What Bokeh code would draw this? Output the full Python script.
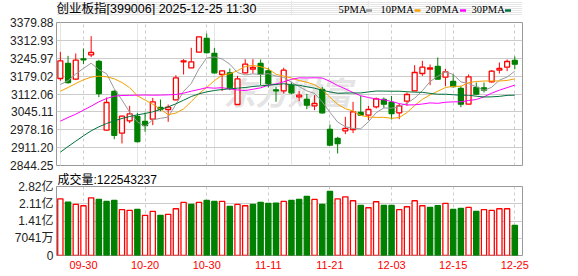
from bokeh.plotting import figure
from bokeh.models import Range1d, FixedTicker, Label, Grid, ColumnDataSource, PrintfTickFormatter, Title
from bokeh.core.properties import value
from bokeh.layouts import column
from bokeh.embed import file_html
from bokeh.resources import INLINE

# ---------------- data ----------------
dates = ["09-25","09-26","09-29","09-30","10-09","10-10","10-13","10-14","10-15","10-16",
         "10-17","10-20","10-21","10-22","10-23","10-24","10-27","10-28","10-29","10-30",
         "10-31","11-03","11-04","11-05","11-06","11-07","11-10","11-11","11-12","11-13",
         "11-14","11-17","11-18","11-19","11-20","11-21","11-24","11-25","11-26","11-27",
         "11-28","12-01","12-02","12-03","12-04","12-05","12-08","12-09","12-10","12-11",
         "12-12","12-15","12-16","12-17","12-18","12-19","12-22","12-23","12-24","12-25"]

opens = [3170.1,3226.3,3167.6,3243.8,3258.8,3233.8,2976.6,3121.4,2965.3,3011.6,
         3027.8,3009.1,3017.8,3061.5,3054.0,3090.2,3232.5,3210.1,3268.8,3319.9,
         3263.8,3185.1,3191.3,3072.7,3191.3,3205.1,3226.3,3198.8,3127.7,3123.9,
         3145.2,3101.5,3091.4,3067.7,3128.9,2979.1,2945.4,2974.1,2979.1,3042.8,
         3032.8,3064.0,3091.4,3080.2,3041.5,3085.2,3123.9,3188.8,3205.1,3215.1,
         3175.1,3158.9,3132.7,3074.0,3136.4,3135.2,3157.6,3201.3,3212.6,3237.5]
highs = [3270.0,3255.0,3263.8,3282.5,3328.7,3240.0,3098.9,3126.4,3031.0,3067.7,
         3041.5,3042.8,3097.7,3091.4,3072.7,3182.6,3242.5,3285.0,3327.5,3338.7,
         3285.0,3201.3,3207.6,3180.1,3242.5,3242.5,3241.3,3210.1,3138.9,3210.1,
         3157.6,3122.7,3112.7,3107.7,3138.9,2997.8,2951.6,3026.5,3082.7,3105.1,
         3067.7,3098.9,3098.9,3105.1,3076.5,3117.7,3220.1,3236.3,3222.5,3248.8,
         3206.3,3186.3,3142.6,3185.1,3155.1,3155.1,3201.3,3230.0,3241.3,3252.5]
lows = [3161.4,3151.4,3163.9,3223.8,3250.0,3100.2,2975.0,2942.9,2926.6,3002.8,
        2930.4,2970.3,2995.3,3047.8,3007.8,3088.9,3185.1,3210.1,3267.5,3263.8,
        3188.8,3122.7,3126.4,3072.7,3188.8,3188.8,3145.2,3136.4,3082.7,3113.9,
        3111.4,3085.2,3055.2,3051.5,3039.0,2920.4,2889.2,2961.6,2965.3,3032.8,
        3014.1,3057.7,3060.2,3016.6,3017.8,3067.7,3122.7,3180.1,3145.2,3167.6,
        3141.4,3136.4,3062.7,3074.0,3110.2,3117.7,3155.1,3188.8,3197.6,3205.1]
closes = [3236.3,3155.1,3238.8,3240.0,3267.5,3113.9,3080.2,2957.6,3029.0,3037.8,
          2934.1,2994.1,3082.7,3055.2,3062.7,3172.6,3236.3,3232.5,3326.2,3267.5,
          3191.3,3198.8,3135.2,3168.9,3223.8,3211.3,3186.3,3151.4,3123.9,3201.3,
          3116.4,3107.7,3070.2,3076.5,3041.5,2920.4,2926.6,2982.8,3045.3,3032.8,
          3054.0,3093.9,3074.0,3039.0,3067.7,3110.2,3192.6,3212.6,3210.1,3167.6,
          3195.1,3140.2,3074.0,3176.4,3111.4,3126.4,3197.6,3207.6,3233.8,3223.8]

ma5 = [3147.6,3162.0,3187.0,3208.0,3227.5,3203.1,3188.1,3131.8,3089.6,3043.7,
       3007.7,2990.5,3015.5,3020.8,3025.8,3073.5,3121.9,3151.9,3206.1,3247.0,
       3250.8,3243.3,3223.8,3192.3,3183.6,3187.6,3185.1,3188.3,3179.3,3174.8,
       3155.9,3140.1,3123.9,3114.4,3082.5,3043.3,3007.0,2989.6,2983.3,2981.6,
       3008.3,3041.8,3060.0,3058.7,3065.7,3077.0,3096.7,3124.4,3158.6,3178.6,
       3195.6,3185.1,3157.4,3150.7,3139.4,3125.7,3137.2,3163.9,3175.4,3197.8]
ma10 = [3122.7,3136.4,3151.4,3165.1,3175.1,3178.9,3176.4,3168.9,3155.1,3135.6,
        3105.4,3089.3,3073.7,3055.2,3034.7,3040.6,3056.2,3083.7,3113.4,3136.4,
        3162.1,3182.6,3187.8,3199.2,3215.3,3219.2,3214.2,3206.1,3185.8,3179.2,
        3171.7,3162.6,3156.1,3146.9,3128.7,3099.6,3073.6,3056.7,3048.9,3032.0,
        3025.8,3024.4,3024.8,3021.0,3023.7,3042.6,3069.2,3092.2,3108.7,3122.2,
        3136.3,3140.9,3140.9,3154.7,3159.0,3160.6,3161.1,3160.6,3163.0,3168.6]
ma20 = [3010.3,3024.0,3036.5,3051.5,3066.5,3082.7,3095.2,3103.9,3106.4,3107.0,
        3107.7,3108.3,3107.5,3108.0,3108.9,3110.2,3115.2,3122.7,3128.9,3136.0,
        3133.8,3135.9,3130.8,3127.2,3125.0,3129.9,3135.2,3144.9,3149.6,3157.8,
        3166.9,3172.6,3172.0,3173.0,3172.0,3159.4,3143.9,3131.4,3117.4,3105.6,
        3098.8,3093.5,3090.5,3084.0,3076.2,3071.1,3071.4,3074.5,3078.8,3077.1,
        3081.0,3082.7,3082.8,3087.8,3091.3,3101.6,3115.2,3126.4,3135.9,3145.4]
ma30 = [2894.2,2915.4,2935.4,2955.4,2974.1,2989.1,3001.6,3011.6,3020.3,3027.8,
        3034.0,3039.0,3045.3,3054.0,3064.0,3075.2,3088.9,3102.7,3112.7,3120.2,
        3125.2,3128.9,3131.4,3133.9,3136.4,3140.2,3142.6,3145.2,3147.6,3150.4,
        3146.4,3144.8,3139.2,3133.8,3126.2,3119.8,3114.7,3115.5,3116.0,3115.9,
        3119.9,3123.2,3122.9,3122.4,3122.5,3120.5,3119.0,3118.3,3114.5,3111.1,
        3111.3,3109.3,3107.3,3107.5,3103.8,3100.9,3101.3,3103.2,3106.9,3107.6]

volumes = [231500000,218000000,208500000,203100000,235600000,228800000,220700000,224800000,186900000,184100000,
           188200000,163800000,180100000,163800000,167900000,190900000,216600000,208500000,216600000,224800000,
           220700000,220700000,200400000,208500000,203100000,208500000,216600000,212600000,213900000,220700000,
           224800000,228800000,241000000,228800000,208500000,261300000,231500000,239700000,223400000,204500000,
           195000000,219300000,204500000,204500000,186900000,199000000,223400000,203100000,196300000,203100000,
           212600000,188200000,192300000,196300000,180100000,186900000,184100000,190900000,190900000,122543237]

title_text = "创业板指[399006] 2025-12-25 11:30"
ma_names = ["5PMA", "10PMA", "20PMA", "30PMA"]
price_ticks = [2844.25, 2911.20, 2978.16, 3045.11, 3112.06, 3179.02, 3245.97, 3312.93, 3379.88]
vol_ticks = [0, 70410000, 140820000, 211230000, 281640000]
vol_tick_labels = ["0", "7041万", "1.41亿", "2.11亿", "2.82亿"]
date_tick_labels = ["09-30", "10-20", "10-30", "11-11", "11-21", "12-03", "12-15", "12-25"]

# ---------------- styling / layout ----------------
RED, GREEN = "#ff0000", "#008000"
MA_COLORS = ["#999999", "#f5a000", "#ff00ff", "#00703c"]
GRID_C = "#cccccc"
FRAME_C = "#999999"
SANS = "Liberation Sans, Noto Sans CJK SC"
W, H = 578, 276
FL, FR = 56, 522
X0, X1 = -0.5, 60.0
HEAD_H = 15                 # header strip (title + MA legend)
MAIN_TOP, MAIN_BOT = 22, 165
P1_END = 172
VOL_TOP, VOL_BOT = 186, 255

def px2x(px):
    return X0 + (px - FL) * (X1 - X0) / (FR - FL)

n = len(dates)
xs = list(range(n))
up = [c >= o for o, c in zip(opens, closes)]
vol_up = [up[0]] + [closes[i] >= closes[i - 1] for i in range(1, n)]

src = ColumnDataSource(dict(
    x=xs, high=highs, low=lows,
    top=[max(o, c) for o, c in zip(opens, closes)],
    bottom=[min(o, c) for o, c in zip(opens, closes)],
    color=[RED if u else GREEN for u in up],
    fill=["#ffffff" if u else GREEN for u in up],
))
vsrc = ColumnDataSource(dict(
    x=xs, vol=volumes,
    color=[RED if u else GREEN for u in vol_up],
    fill=["#ffffff" if u else GREEN for u in vol_up],
))
date_ticks = [dates.index(d) for d in date_tick_labels]

def style_axis(ax, size="12px", color="#222222", standoff=3):
    ax.axis_line_color = None
    ax.major_tick_line_color = None
    ax.minor_tick_line_color = None
    ax.major_tick_out = 0
    ax.major_tick_in = 0
    ax.major_label_standoff = standoff
    ax.major_label_text_font_size = size
    ax.major_label_text_color = color
    ax.major_label_text_font = SANS

shared_x = Range1d(X0, X1)

# ---------------- header strip: title and MA legend ----------------
p0 = figure(width=W, height=HEAD_H, title=None,
            x_range=shared_x, y_range=Range1d(HEAD_H, 0),
            x_axis_location=None, y_axis_location=None,
            toolbar_location=None, output_backend="svg",
            min_border_left=FL, min_border_right=W - FR,
            min_border_top=0, min_border_bottom=0)
p0.outline_line_color = None
p0.background_fill_color = "#ffffff"
p0.border_fill_color = "#ffffff"
hsrc = ColumnDataSource(dict(
    tx=[px2x(p) for p in [338, 380, 425, 471]],
    dx0=[px2x(p) for p in [365.5, 414, 459.5, 504.5]],
    dx1=[px2x(p) for p in [371.5, 420, 465.5, 510.5]],
    name=ma_names, col=MA_COLORS,
))
p0.text(x=[X0], y=[8], text=[title_text], text_font=value(SANS),
        text_font_size="12.5px", text_color="#000000",
        text_align="left", text_baseline="middle")
p0.text(x="tx", y=8.5, text="name", source=hsrc, text_font=value("Liberation Serif"),
        text_font_size="10.5px", text_color="#000000",
        text_align="left", text_baseline="middle")
p0.quad(left="dx0", right="dx1", top=8.8, bottom=11.2, source=hsrc,
        fill_color="col", line_color=None)

# ---------------- main panel ----------------
p1 = figure(width=W, height=P1_END - HEAD_H, title=None,
            x_range=shared_x, y_range=Range1d(price_ticks[0], price_ticks[-1]),
            x_axis_location=None, toolbar_location=None, output_backend="svg",
            min_border_left=FL, min_border_right=W - FR,
            min_border_top=MAIN_TOP - HEAD_H, min_border_bottom=P1_END - MAIN_BOT)
p1.outline_line_color = FRAME_C
p1.outline_line_width = 1
p1.background_fill_color = "#ffffff"
p1.border_fill_color = "#ffffff"
p1.yaxis.ticker = FixedTicker(ticks=price_ticks)
p1.yaxis.formatter = PrintfTickFormatter(format="%.2f")
style_axis(p1.yaxis[0])
p1.ygrid.grid_line_color = GRID_C
p1.add_layout(Grid(dimension=0, ticker=FixedTicker(ticks=date_ticks),
                   grid_line_color=GRID_C, grid_line_dash="3 3"))

# faint watermark
wm_y = price_ticks[-1] - (90 - MAIN_TOP) * (price_ticks[-1] - price_ticks[0]) / (MAIN_BOT - MAIN_TOP)
p1.add_layout(Label(x=px2x(287), y=wm_y, text="东方财富",
                    text_font="Noto Sans CJK SC", text_font_size="32px",
                    text_font_style="bold italic", text_color="#e4e4e4",
                    text_align="center", text_baseline="middle", level="underlay"))

p1.segment(x0="x", y0="high", x1="x", y1="low", source=src, line_color="color", line_width=1)
p1.vbar(x="x", width=0.64, top="top", bottom="bottom", source=src,
        fill_color="fill", line_color="color", line_width=1.3)

for ma, col in zip([ma5, ma10, ma20, ma30], MA_COLORS):
    p1.line(xs, ma, line_color=col, line_width=1)

# ---------------- volume panel ----------------
p2 = figure(width=W, height=H - P1_END, title=None,
            x_range=shared_x, y_range=Range1d(0, vol_ticks[-1]),
            toolbar_location=None, output_backend="svg",
            min_border_left=FL, min_border_right=W - FR,
            min_border_top=VOL_TOP - P1_END, min_border_bottom=H - VOL_BOT)
p2.outline_line_color = FRAME_C
p2.outline_line_width = 1
p2.background_fill_color = "#ffffff"
p2.border_fill_color = "#ffffff"
p2.yaxis.ticker = FixedTicker(ticks=vol_ticks)
p2.yaxis.major_label_overrides = {t: l for t, l in zip(vol_ticks, vol_tick_labels)}
style_axis(p2.yaxis[0])
p2.xaxis.ticker = FixedTicker(ticks=date_ticks)
p2.xaxis.major_label_overrides = {t: l for t, l in zip(date_ticks, date_tick_labels)}
style_axis(p2.xaxis[0], size="11px", color=RED, standoff=5)
p2.ygrid.grid_line_color = GRID_C
p2.xgrid.grid_line_color = GRID_C
p2.xgrid.grid_line_dash = "3 3"

p2.add_layout(Title(text="成交量:" + str(volumes[-1]), align="left", offset=1,
                    standoff=-4, vertical_align="top",
                    text_font=SANS, text_font_size="12px", text_font_style="normal",
                    text_color="#000000"), "above")

p2.vbar(x="x", width=0.68, top="vol", bottom=0, source=vsrc,
        fill_color="fill", line_color="color", line_width=1.3)

layout = column(p0, p1, p2, spacing=0)
open("out.html", "w").write(file_html(layout, INLINE))
